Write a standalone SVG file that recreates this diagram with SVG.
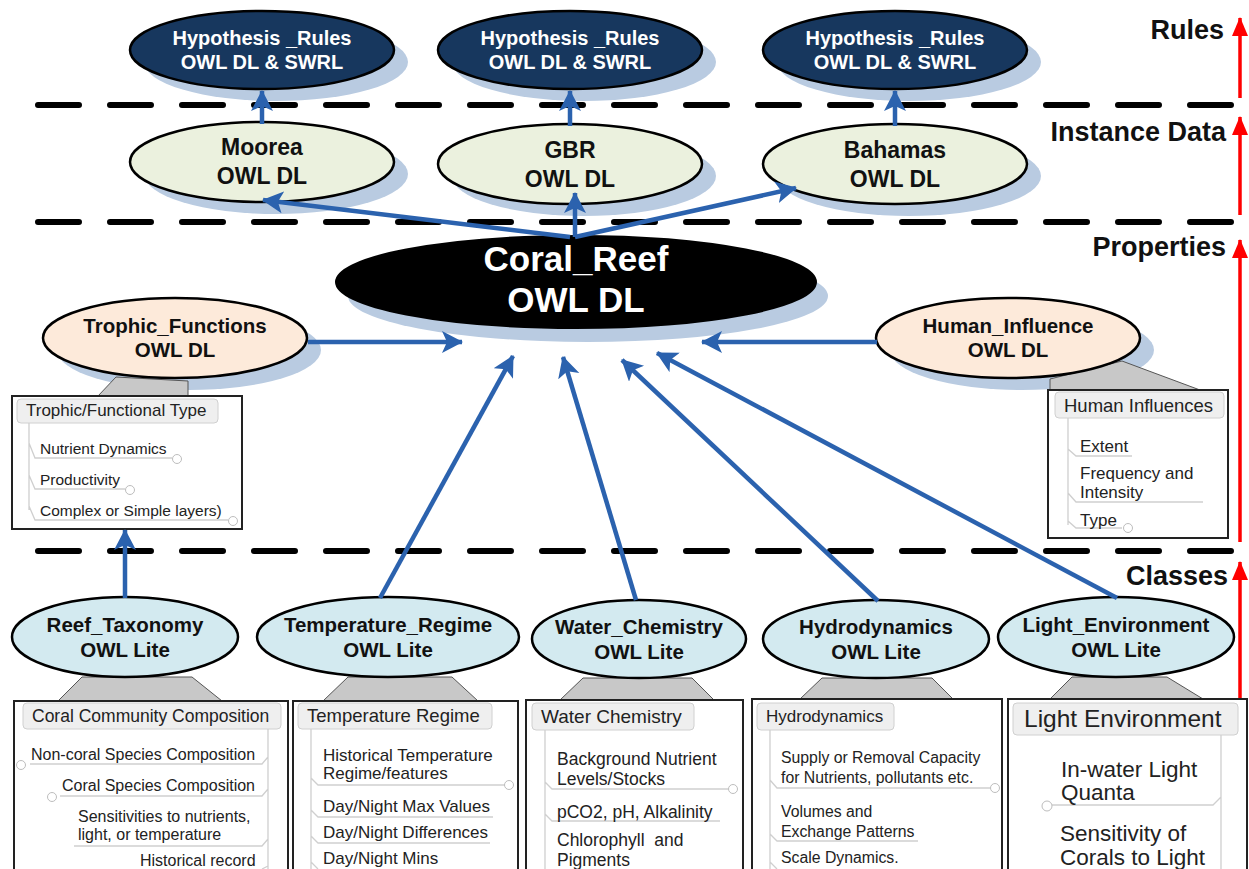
<svg xmlns="http://www.w3.org/2000/svg" width="1249" height="869" viewBox="0 0 1249 869">
  <defs>
    <style>
      text { font-family: "Liberation Sans", Arial, sans-serif; }
      .bold { font-weight: bold; text-anchor: middle; }
      .wt { fill: #ffffff; }
      .bk { fill: #111111; }
      .shadow { fill: #b9cbe1; }
      .rule { fill: #17375e; stroke: #000; stroke-width: 2.5; }
      .inst { fill: #ebf1de; stroke: #000; stroke-width: 2.5; }
      .prop { fill: #fdeada; stroke: #000; stroke-width: 2.5; }
      .cls { fill: #d3eaf0; stroke: #000; stroke-width: 2.5; }
      .dash { stroke: #000; stroke-width: 6; stroke-dasharray: 41 31; stroke-linecap: round; fill: none; }
      .blue { stroke: #2b62ae; stroke-width: 4.5; fill: none; marker-end: url(#blueHead); }
      .red { stroke: #ff0000; stroke-width: 3.5; fill: none; marker-end: url(#redHead); }
      .layer { font-weight: bold; fill: #111; text-anchor: end; }
      .panel { fill: #ffffff; stroke: #222; stroke-width: 2; }
      .wedge { fill: #c8c8c8; stroke: #555; stroke-width: 1; }
      .hdr { fill: #efefef; stroke: #d0d0d0; stroke-width: 1; }
      .item { fill: #222; white-space: pre; }
      .tree { stroke: #cfcfcf; stroke-width: 1.3; fill: none; }
      .plus { fill: #fff; stroke: #bdbdbd; stroke-width: 1; }
    </style>
    <marker id="blueHead" markerUnits="userSpaceOnUse" markerWidth="24" markerHeight="24" refX="20" refY="11" orient="auto">
      <path d="M0,0 L21,11 L0,22 L5,11 z" fill="#2b62ae"/>
    </marker>
    <marker id="redHead" markerUnits="userSpaceOnUse" markerWidth="20" markerHeight="20" refX="18" refY="8" orient="auto">
      <path d="M0,0 L19,8 L0,16 z" fill="#ff0000"/>
    </marker>
  </defs>

  <rect width="1249" height="869" fill="#ffffff"/>

  <!-- layer separators -->
  <g id="separators">
    <line class="dash" x1="38" y1="105" x2="1236" y2="105"/>
    <line class="dash" x1="38" y1="222" x2="1236" y2="222"/>
    <line class="dash" x1="38" y1="551" x2="1236" y2="551"/>
  </g>

  <!-- layer labels and red direction arrows -->
  <g id="layers" font-size="27">
    <text class="layer" x="1224" y="39">Rules</text>
    <text class="layer" x="1226" y="141">Instance Data</text>
    <text class="layer" x="1226" y="256">Properties</text>
    <text class="layer" x="1228" y="585">Classes</text>
    <line class="red" x1="1240" y1="98" x2="1240" y2="18"/>
    <line class="red" x1="1240" y1="215" x2="1240" y2="117"/>
    <line class="red" x1="1240" y1="542" x2="1240" y2="240"/>
    <line class="red" x1="1240" y1="705" x2="1240" y2="562"/>
  </g>

  <!-- rules layer -->
  <g id="rules-moorea" font-size="20">
    <ellipse class="shadow" cx="276" cy="62" rx="132" ry="39"/>
    <ellipse class="rule" cx="262" cy="50" rx="132" ry="39"/>
    <text class="bold wt" x="262" y="45">Hypothesis _Rules</text>
    <text class="bold wt" x="262" y="69">OWL DL &amp; SWRL</text>
  </g>
  <g id="rules-gbr" font-size="20">
    <ellipse class="shadow" cx="584" cy="62" rx="132" ry="39"/>
    <ellipse class="rule" cx="570" cy="50" rx="132" ry="39"/>
    <text class="bold wt" x="570" y="45">Hypothesis _Rules</text>
    <text class="bold wt" x="570" y="69">OWL DL &amp; SWRL</text>
  </g>
  <g id="rules-bahamas" font-size="20">
    <ellipse class="shadow" cx="909" cy="62" rx="132" ry="39"/>
    <ellipse class="rule" cx="895" cy="50" rx="132" ry="39"/>
    <text class="bold wt" x="895" y="45">Hypothesis _Rules</text>
    <text class="bold wt" x="895" y="69">OWL DL &amp; SWRL</text>
  </g>

  <!-- instance data layer -->
  <g id="moorea" font-size="23">
    <ellipse class="shadow" cx="276" cy="174" rx="132" ry="40"/>
    <ellipse class="inst" cx="262" cy="162" rx="132" ry="40"/>
    <text class="bold bk" x="262" y="155">Moorea</text>
    <text class="bold bk" x="262" y="184">OWL DL</text>
  </g>
  <g id="gbr" font-size="23">
    <ellipse class="shadow" cx="584" cy="176" rx="132" ry="40"/>
    <ellipse class="inst" cx="570" cy="164" rx="132" ry="40"/>
    <text class="bold bk" x="570" y="158">GBR</text>
    <text class="bold bk" x="570" y="187">OWL DL</text>
  </g>
  <g id="bahamas" font-size="23">
    <ellipse class="shadow" cx="909" cy="176" rx="132" ry="40"/>
    <ellipse class="inst" cx="895" cy="164" rx="132" ry="40"/>
    <text class="bold bk" x="895" y="158">Bahamas</text>
    <text class="bold bk" x="895" y="187">OWL DL</text>
  </g>

  <!-- properties layer -->
  <g id="coral-reef" font-size="35">
    <ellipse class="shadow" cx="588" cy="296" rx="240" ry="46"/>
    <ellipse cx="576" cy="282" rx="240" ry="46" fill="#000" stroke="#000" stroke-width="2"/>
    <text class="bold wt" x="576" y="271">Coral_Reef</text>
    <text class="bold wt" x="576" y="312">OWL DL</text>
  </g>

  <g id="trophic-functions">
    <ellipse class="shadow" cx="189" cy="350" rx="132" ry="40"/>
    <polygon class="wedge" points="116,377 188,381 188,396 98,396"/>
    <ellipse class="prop" cx="175" cy="338" rx="132" ry="40"/>
    <text class="bold bk" x="175" y="333" font-size="20.5">Trophic_Functions</text>
    <text class="bold bk" x="175" y="357" font-size="20.5">OWL DL</text>
    <rect class="panel" x="12" y="396" width="230" height="133"/>
    <rect class="hdr" x="17" y="399" width="201" height="24" rx="4"/>
    <text class="item" x="26" y="416" font-size="17">Trophic/Functional Type</text>
    <path class="tree" d="M29,423 V510 M29,443 L35,458 H172 M29,475 L35,489 H125 M29,506 L35,520 H228"/>
    <g font-size="15.5">
      <text class="item" x="40" y="454">Nutrient Dynamics</text>
      <text class="item" x="40" y="485">Productivity</text>
      <text class="item" x="40" y="516">Complex or Simple layers)</text>
    </g>
    <circle class="plus" cx="177" cy="459" r="4.5"/>
    <circle class="plus" cx="130" cy="490" r="4.5"/>
    <circle class="plus" cx="233" cy="521" r="4.5"/>
  </g>

  <g id="human-influence">
    <ellipse class="shadow" cx="1022" cy="350" rx="132" ry="40"/>
    <polygon class="wedge" points="1050,379 1122,361 1200,390 1050,390"/>
    <ellipse class="prop" cx="1008" cy="338" rx="132" ry="40"/>
    <text class="bold bk" x="1008" y="333" font-size="20.5">Human_Influence</text>
    <text class="bold bk" x="1008" y="357" font-size="20.5">OWL DL</text>
    <rect class="panel" x="1048" y="390" width="180" height="148"/>
    <rect class="hdr" x="1055" y="392" width="169" height="26" rx="4"/>
    <text class="item" x="1064" y="412" font-size="18.5">Human Influences</text>
    <path class="tree" d="M1068,418 V525 M1068,449 L1076,456 H1132 M1068,493 L1076,502 H1203 M1068,521 L1076,528 H1122"/>
    <g font-size="17">
      <text class="item" x="1080" y="452">Extent</text>
      <text class="item" x="1080" y="479">Frequency and</text>
      <text class="item" x="1080" y="498">Intensity</text>
      <text class="item" x="1080" y="526">Type</text>
    </g>
    <circle class="plus" cx="1128" cy="528" r="4.5"/>
  </g>

  <!-- classes layer -->
  <g id="reef-taxonomy">
    <polygon class="wedge" points="82,677 192,677 222,701 58,701"/>
    <ellipse class="cls" cx="125" cy="637" rx="113" ry="40"/>
    <text class="bold bk" x="125" y="632" font-size="20.5">Reef_Taxonomy</text>
    <text class="bold bk" x="125" y="657" font-size="20.5">OWL Lite</text>
    <rect class="panel" x="14" y="701" width="274" height="175"/>
    <rect class="hdr" x="23" y="703" width="258" height="26" rx="4"/>
    <text class="item" x="32" y="722" font-size="17.5">Coral Community Composition</text>
    <path class="tree" d="M268,729 V869 M268,757 L262,764 H30 M268,789 L262,796 H60 M268,839 L262,846 H74 M268,866 L262,869"/>
    <g font-size="16">
      <text class="item" x="31" y="760">Non-coral Species Composition</text>
      <text class="item" x="62" y="791">Coral Species Composition</text>
      <text class="item" x="78" y="822">Sensitivities to nutrients,</text>
      <text class="item" x="78" y="840">light, or temperature</text>
      <text class="item" x="140" y="866">Historical record</text>
    </g>
    <circle class="plus" cx="21" cy="765" r="4.5"/>
    <circle class="plus" cx="52" cy="797" r="4.5"/>
  </g>

  <g id="temperature-regime">
    <polygon class="wedge" points="348,677 452,677 478,701 323,701"/>
    <ellipse class="cls" cx="388" cy="637" rx="131" ry="40"/>
    <text class="bold bk" x="388" y="632" font-size="20.5">Temperature_Regime</text>
    <text class="bold bk" x="388" y="657" font-size="20.5">OWL Lite</text>
    <rect class="panel" x="293" y="701" width="225" height="175"/>
    <rect class="hdr" x="298" y="703" width="194" height="26" rx="4"/>
    <text class="item" x="307" y="722" font-size="18.5">Temperature Regime</text>
    <path class="tree" d="M311,729 V869 M311,778 L318,785 H505 M311,810 L318,817 H493 M311,836 L318,843 H490 M311,862 L318,869"/>
    <g font-size="17">
      <text class="item" x="323" y="761">Historical Temperature</text>
      <text class="item" x="323" y="779">Regime/features</text>
      <text class="item" x="323" y="812">Day/Night Max Values</text>
      <text class="item" x="323" y="838">Day/Night Differences</text>
      <text class="item" x="323" y="864">Day/Night Mins</text>
    </g>
    <circle class="plus" cx="509" cy="785" r="4.5"/>
  </g>

  <g id="water-chemistry">
    <polygon class="wedge" points="583,678 692,678 714,700 560,700"/>
    <ellipse class="cls" cx="639" cy="639" rx="107" ry="39"/>
    <text class="bold bk" x="639" y="634" font-size="20.5">Water_Chemistry</text>
    <text class="bold bk" x="639" y="659" font-size="20.5">OWL Lite</text>
    <rect class="panel" x="526" y="700" width="217" height="176"/>
    <rect class="hdr" x="532" y="703" width="162" height="27" rx="4"/>
    <text class="item" x="541" y="723" font-size="19">Water Chemistry</text>
    <path class="tree" d="M545,730 V869 M545,782 L552,789 H728 M545,814 L552,821 H720"/>
    <g font-size="17.5">
      <text class="item" x="557" y="765">Background Nutrient</text>
      <text class="item" x="557" y="785">Levels/Stocks</text>
      <text class="item" x="557" y="818">pCO2, pH, Alkalinity</text>
      <text class="item" x="557" y="846" xml:space="preserve">Chlorophyll  and</text>
      <text class="item" x="557" y="866">Pigments</text>
    </g>
    <circle class="plus" cx="733" cy="789" r="4.5"/>
  </g>

  <g id="hydrodynamics">
    <polygon class="wedge" points="822,678 932,678 953,699 800,699"/>
    <ellipse class="cls" cx="876" cy="639" rx="113" ry="39"/>
    <text class="bold bk" x="876" y="634" font-size="20.5">Hydrodynamics</text>
    <text class="bold bk" x="876" y="659" font-size="20.5">OWL Lite</text>
    <rect class="panel" x="752" y="699" width="250" height="177"/>
    <rect class="hdr" x="757" y="703" width="137" height="27" rx="4"/>
    <text class="item" x="766" y="722" font-size="17">Hydrodynamics</text>
    <path class="tree" d="M770,730 V869 M770,780 L777,788 H990 M770,834 L777,841 H918 M770,862 L777,869"/>
    <g font-size="15.8">
      <text class="item" x="781" y="763">Supply or Removal Capacity</text>
      <text class="item" x="781" y="783">for Nutrients, pollutants etc.</text>
      <text class="item" x="781" y="817">Volumes and</text>
      <text class="item" x="781" y="837">Exchange Patterns</text>
      <text class="item" x="781" y="863">Scale Dynamics.</text>
    </g>
    <circle class="plus" cx="995" cy="788" r="4.5"/>
  </g>

  <g id="light-environment">
    <polygon class="wedge" points="1072,677 1167,677 1203,699 1050,699"/>
    <ellipse class="cls" cx="1116" cy="637" rx="118" ry="40"/>
    <text class="bold bk" x="1116" y="632" font-size="20.5">Light_Environment</text>
    <text class="bold bk" x="1116" y="657" font-size="20.5">OWL Lite</text>
    <rect class="panel" x="1008" y="699" width="239" height="177"/>
    <rect class="hdr" x="1013" y="703" width="225" height="32" rx="4"/>
    <text class="item" x="1024" y="727" font-size="24.5">Light Environment</text>
    <path class="tree" d="M1221,735 V869 M1221,797 L1213,805 H1052"/>
    <g font-size="22.5">
      <text class="item" x="1061" y="777">In-water Light</text>
      <text class="item" x="1061" y="800">Quanta</text>
      <text class="item" x="1060" y="841">Sensitivity of</text>
      <text class="item" x="1060" y="865">Corals to Light</text>
    </g>
    <circle class="plus" cx="1047" cy="806" r="5"/>
  </g>

  <!-- connectors -->
  <g id="connectors">
    <line class="blue" x1="262" y1="124" x2="262" y2="91"/>
    <line class="blue" x1="570" y1="126" x2="570" y2="91"/>
    <line class="blue" x1="895" y1="126" x2="895" y2="91"/>
    <line class="blue" x1="570" y1="237" x2="263" y2="200"/>
    <line class="blue" x1="575" y1="237" x2="575" y2="193"/>
    <line class="blue" x1="575" y1="237" x2="796" y2="188"/>
    <line class="blue" x1="308" y1="342" x2="462" y2="342"/>
    <line class="blue" x1="877" y1="342" x2="702" y2="342"/>
    <line class="blue" x1="125" y1="598" x2="125" y2="530"/>
    <line class="blue" x1="380" y1="598" x2="513" y2="356"/>
    <line class="blue" x1="636" y1="600" x2="563" y2="357"/>
    <line class="blue" x1="878" y1="601" x2="622" y2="360"/>
    <line class="blue" x1="1117" y1="598" x2="657" y2="353"/>
  </g>
</svg>
